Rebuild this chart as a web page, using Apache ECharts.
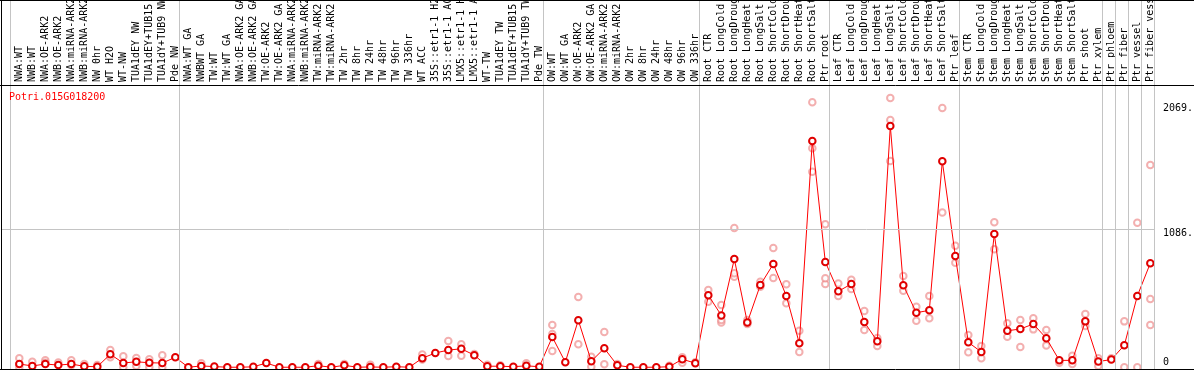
<!DOCTYPE html>
<html><head><meta charset="utf-8">
<script src="https://cdn.jsdelivr.net/npm/echarts@6/dist/echarts.min.js"></script>
<style>html,body{margin:0;padding:0;background:#fff;overflow:hidden}#c{width:1194px;height:370px}</style>
</head><body><div id="c"></div>
<script>
const geneName = 'Potri.015G018200';
const groupSizes = [13, 28, 12, 10, 10, 11, 1, 1, 1, 1];
const categories = [
  'NWA:WT','NWB:WT','NWA:OE-ARK2','NWB:OE-ARK2','NWA:miRNA-ARK2','NWB:miRNA-ARK2','NW 0hr','WT H2O','WT-NW','TUA1dEY NW','TUA1dEY+TUB15 NW','TUA1dY+TUB9 NW','Pde NW',
  'NWA:WT GA','NWBWT GA','TW:WT','TW:WT GA','NWA:OE-ARK2 GA','NWB:OE-ARK2 GA','TW:OE-ARK2','TW:OE-ARK2 GA','NWA:miRNA-ARK2 GA','NWB:miRNA-ARK2 GA','TW:miRNA-ARK2','TW:miRNA-ARK2','TW 2hr','TW 8hr','TW 24hr','TW 48hr','TW 96hr','TW 336hr','WT ACC','35S::etr1-1 H2O','35S::etr1-1 ACC','LMX5::etr1-1 H2O','LMX5::etr1-1 ACC','WT-TW','TUA1dEY TW','TUA1dEY+TUB15 TW','TUA1dY+TUB9 TW','Pde TW',
  'OW:WT','OW:WT GA','OW:OE-ARK2','OW:OE-ARK2 GA','OW:miRNA-ARK2','OW:miRNA-ARK2','OW 2hr','OW 8hr','OW 24hr','OW 48hr','OW 96hr','OW 336hr',
  'Root CTR','Root LongCold','Root LongDrought','Root LongHeat','Root LongSalt','Root ShortCold','Root ShortDrought','Root ShortHeat','Root ShortSalt','Ptr root',
  'Leaf CTR','Leaf LongCold','Leaf LongDrought','Leaf LongHeat','Leaf LongSalt','Leaf ShortCold','Leaf ShortDrought','Leaf ShortHeat','Leaf ShortSalt','Ptr leaf',
  'Stem CTR','Stem LongCold','Stem LongDrought','Stem LongHeat','Stem LongSalt','Stem ShortCold','Stem ShortDrought','Stem ShortHeat','Stem ShortSalt','Ptr shoot','Ptr xylem',
  'Ptr phloem','Ptr fiber','Ptr vessel','Ptr fiber vessel'
];
const meanValues = [
  25,10,25,17,25,7,4,102,33,43,35,33,78,
  0,10,5,0,0,3,33,0,0,0,12,0,15,0,2,0,4,0,71,112,135,145,95,8,8,4,11,4,
  238,40,370,47,149,15,0,0,0,4,63,32,
  567,408,852,353,647,813,561,188,1781,828,
  598,655,356,204,1899,645,429,448,1621,876,
  196,120,1049,287,301,340,228,54,54,361,45,
  60,173,561,819
];
const rep1 = [
  70,43,54,38,54,25,17,135,86,72,62,94,null,
  null,31,null,null,null,null,null,null,null,null,25,null,25,null,20,null,null,null,101,null,206,180,105,20,15,null,31,null,
  332,null,553,83,277,25,null,null,null,12,78,40,
  608,490,1096,372,673,939,653,287,2086,1125,
  660,689,443,230,2120,718,476,561,2041,957,
  253,167,1141,346,372,385,293,35,91,419,70,
  70,361,1138,1592
];
const rep2 = [
  0,null,35,null,15,null,null,78,0,10,0,0,null,
  null,null,null,null,null,null,null,null,null,null,null,null,null,null,null,null,null,null,60,null,88,91,null,null,null,null,null,null,
  128,null,180,4,23,null,null,null,null,null,35,null,
  516,353,713,340,634,702,503,120,1539,655,
  561,616,293,167,1624,602,366,385,1219,823,
  117,70,928,240,159,298,172,null,25,324,10,
  null,0,0,332
];
const rep3 = [
  null,null,null,null,null,null,null,null,null,null,null,null,null,
  null,null,null,null,null,null,null,null,null,null,null,null,null,null,null,null,null,null,null,null,null,null,null,null,null,null,null,null,
  261,null,null,null,null,null,null,null,null,null,null,null,
  null,372,739,null,null,null,null,null,1724,700,
  null,null,null,null,1946,null,null,null,null,null,
  null,null,null,null,null,null,null,null,null,null,null,
  null,null,null,537
];
const yTickValues = [0, 1086, 2069];
const yTickLabels = ['0', '1086.', '2069.'];
const gridLineValue = 1086;

const FONT = 'DejaVu Sans Mono';
const sepOffset = 0.66;
const separators = [];
let cum = 0;
separators.push(cum - sepOffset);
groupSizes.forEach(g => { cum += g; separators.push(cum - sepOffset); });

const xMin = -1.408, xMax = 87.36;
const toPts = arr => arr.map((v, i) => v == null ? null : [i, v]).filter(p => p);
const paleStyle = { color: 'rgba(236,130,130,0.8)', borderWidth: 1.2 };
const sepLine = { color: '#c4c4c4', width: 1, type: 'solid' };

const chart = echarts.init(document.getElementById('c'), null, { renderer: 'canvas' });
chart.setOption({
  animation: false,
  backgroundColor: '#fff',
  title: {
    text: geneName, left: 9, top: 92, padding: 0,
    textStyle: { color: '#ff0000', fontSize: 10, fontFamily: FONT, fontWeight: 'normal' }
  },
  grid: [
    { left: 1, right: 39, top: 85, height: 284, containLabel: false, outerBoundsMode: 'none' },
    { left: 1, right: 39, top: 0, height: 85, containLabel: false, outerBoundsMode: 'none' }
  ],
  xAxis: [
    {
      type: 'value', gridIndex: 0, position: 'top', min: xMin, max: xMax,
      axisLine: { show: false }, axisTick: { show: false }, splitLine: { show: false },
      axisLabel: {
        customValues: categories.map((c, i) => i),
        formatter: v => categories[Math.round(v)] || '',
        rotate: 90, margin: 3, fontSize: 10, fontFamily: FONT, color: '#000',
        showMinLabel: true, showMaxLabel: true, hideOverlap: false
      }
    },
    { type: 'value', gridIndex: 1, min: xMin, max: xMax, show: false }
  ],
  yAxis: [
    {
      type: 'value', gridIndex: 0, position: 'right', min: -14, max: 2222,
      axisLine: { show: false }, axisTick: { show: false }, splitLine: { show: false },
      axisLabel: {
        customValues: yTickValues,
        formatter: v => {
          const k = yTickValues.indexOf(v);
          const t = k >= 0 ? yTickLabels[k] : '';
          return v === 0 ? '{z|' + t + '}' : '{t|' + t + '}';
        },
        margin: 8, align: 'left', verticalAlign: 'middle',
        rich: {
          t: { fontSize: 10, fontFamily: FONT, color: '#000', lineHeight: 10, padding: [8, 0, 0, 0] },
          z: { fontSize: 10, fontFamily: FONT, color: '#000', lineHeight: 10, padding: [0, 0, 10, 0] }
        }
      }
    },
    { type: 'value', gridIndex: 1, min: 0, max: 1, show: false }
  ],
  series: [
    {
      type: 'line', xAxisIndex: 1, yAxisIndex: 1, data: [], silent: true,
      markLine: { silent: true, symbol: 'none', label: { show: false }, lineStyle: sepLine,
        data: separators.map(s => ({ xAxis: s })) }
    },
    {
      type: 'line', data: [], silent: true, z: 1,
      markLine: { silent: true, symbol: 'none', label: { show: false }, lineStyle: sepLine,
        data: separators.map(s => ({ xAxis: s })).concat([{ yAxis: gridLineValue }]) }
    },
    { type: 'scatter', data: toPts(rep1), symbol: 'emptyCircle', symbolSize: 6.5, itemStyle: paleStyle, z: 2 },
    { type: 'scatter', data: toPts(rep2), symbol: 'emptyCircle', symbolSize: 6.5, itemStyle: paleStyle, z: 2 },
    { type: 'scatter', data: toPts(rep3), symbol: 'emptyCircle', symbolSize: 6.5, itemStyle: paleStyle, z: 2 },
    {
      type: 'line', data: meanValues.map((v, i) => [i, v]), z: 3,
      symbol: 'emptyCircle', symbolSize: 6.5, showAllSymbol: true,
      lineStyle: { color: '#ff0000', width: 1 },
      itemStyle: { color: '#e00000', borderWidth: 1.6 }
    }
  ],
  graphic: [
    { type: 'line', shape: { x1: 0, y1: 0.5, x2: 1194, y2: 0.5 }, style: { stroke: '#000', lineWidth: 1 }, z: 10 },
    { type: 'line', shape: { x1: 0, y1: 85.5, x2: 1194, y2: 85.5 }, style: { stroke: '#000', lineWidth: 1 }, z: 10 },
    { type: 'line', shape: { x1: 0, y1: 369.5, x2: 1194, y2: 369.5 }, style: { stroke: '#000', lineWidth: 1 }, z: 10 },
    { type: 'line', shape: { x1: 1.5, y1: 0, x2: 1.5, y2: 370 }, style: { stroke: '#000', lineWidth: 1 }, z: 10 }
  ]
});
</script>
</body></html>
